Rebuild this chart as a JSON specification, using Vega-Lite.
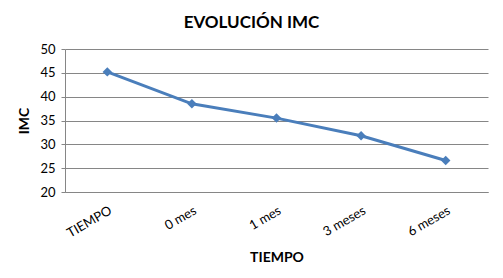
{
  "$schema": "https://vega.github.io/schema/vega-lite/v6.json",
  "autosize": "none",
  "padding": {"left": 65, "top": 49, "right": 15, "bottom": 86},
  "width": 423,
  "height": 143,
  "background": "white",
  "title": {
    "text": "EVOLUCIÓN IMC",
    "font": "Lato",
    "fontSize": 17,
    "fontWeight": "bold",
    "color": "#000000",
    "anchor": "middle",
    "dx": -25,
    "offset": 11
  },
  "config": {
    "view": {"stroke": null},
    "font": "Lato"
  },
  "data": {
    "values": [
      {"tiempo": "TIEMPO", "imc": 45.2},
      {"tiempo": "0 mes", "imc": 38.5},
      {"tiempo": "1 mes", "imc": 35.5},
      {"tiempo": "3 meses", "imc": 31.8},
      {"tiempo": "6 meses", "imc": 26.6}
    ]
  },
  "encoding": {
    "x": {
      "field": "tiempo",
      "type": "ordinal",
      "sort": null,
      "scale": {"type": "point", "padding": 0.5},
      "axis": {
        "title": "TIEMPO",
        "titleFont": "Lato",
        "titleFontSize": 14,
        "titleFontWeight": "bold",
        "titleColor": "#000000",
        "titlePadding": 11,
        "labelAngle": -30,
        "labelAlign": "right",
        "labelBaseline": "top",
        "labelFont": "Lato",
        "labelFontSize": 13,
        "labelColor": "#000000",
        "labelPadding": 12,
        "ticks": false,
        "grid": false,
        "domainColor": "#868686",
        "domainWidth": 1
      }
    },
    "y": {
      "field": "imc",
      "type": "quantitative",
      "scale": {"domain": [20, 50], "nice": false, "zero": false},
      "axis": {
        "title": "IMC",
        "titleFont": "Lato",
        "titleFontSize": 14,
        "titleFontWeight": "bold",
        "titleColor": "#000000",
        "titlePadding": 8,
        "values": [20, 25, 30, 35, 40, 45, 50],
        "labelFont": "Lato",
        "labelFontSize": 13,
        "labelColor": "#000000",
        "labelPadding": 6,
        "tickSize": 4,
        "tickColor": "#868686",
        "domainColor": "#868686",
        "gridColor": "#868686",
        "gridWidth": 1
      }
    }
  },
  "layer": [
    {
      "mark": {"type": "line", "color": "#4A7EBB", "strokeWidth": 3}
    },
    {
      "mark": {"type": "point", "shape": "diamond", "filled": true, "color": "#4A7EBB", "size": 90, "opacity": 1}
    }
  ]
}
